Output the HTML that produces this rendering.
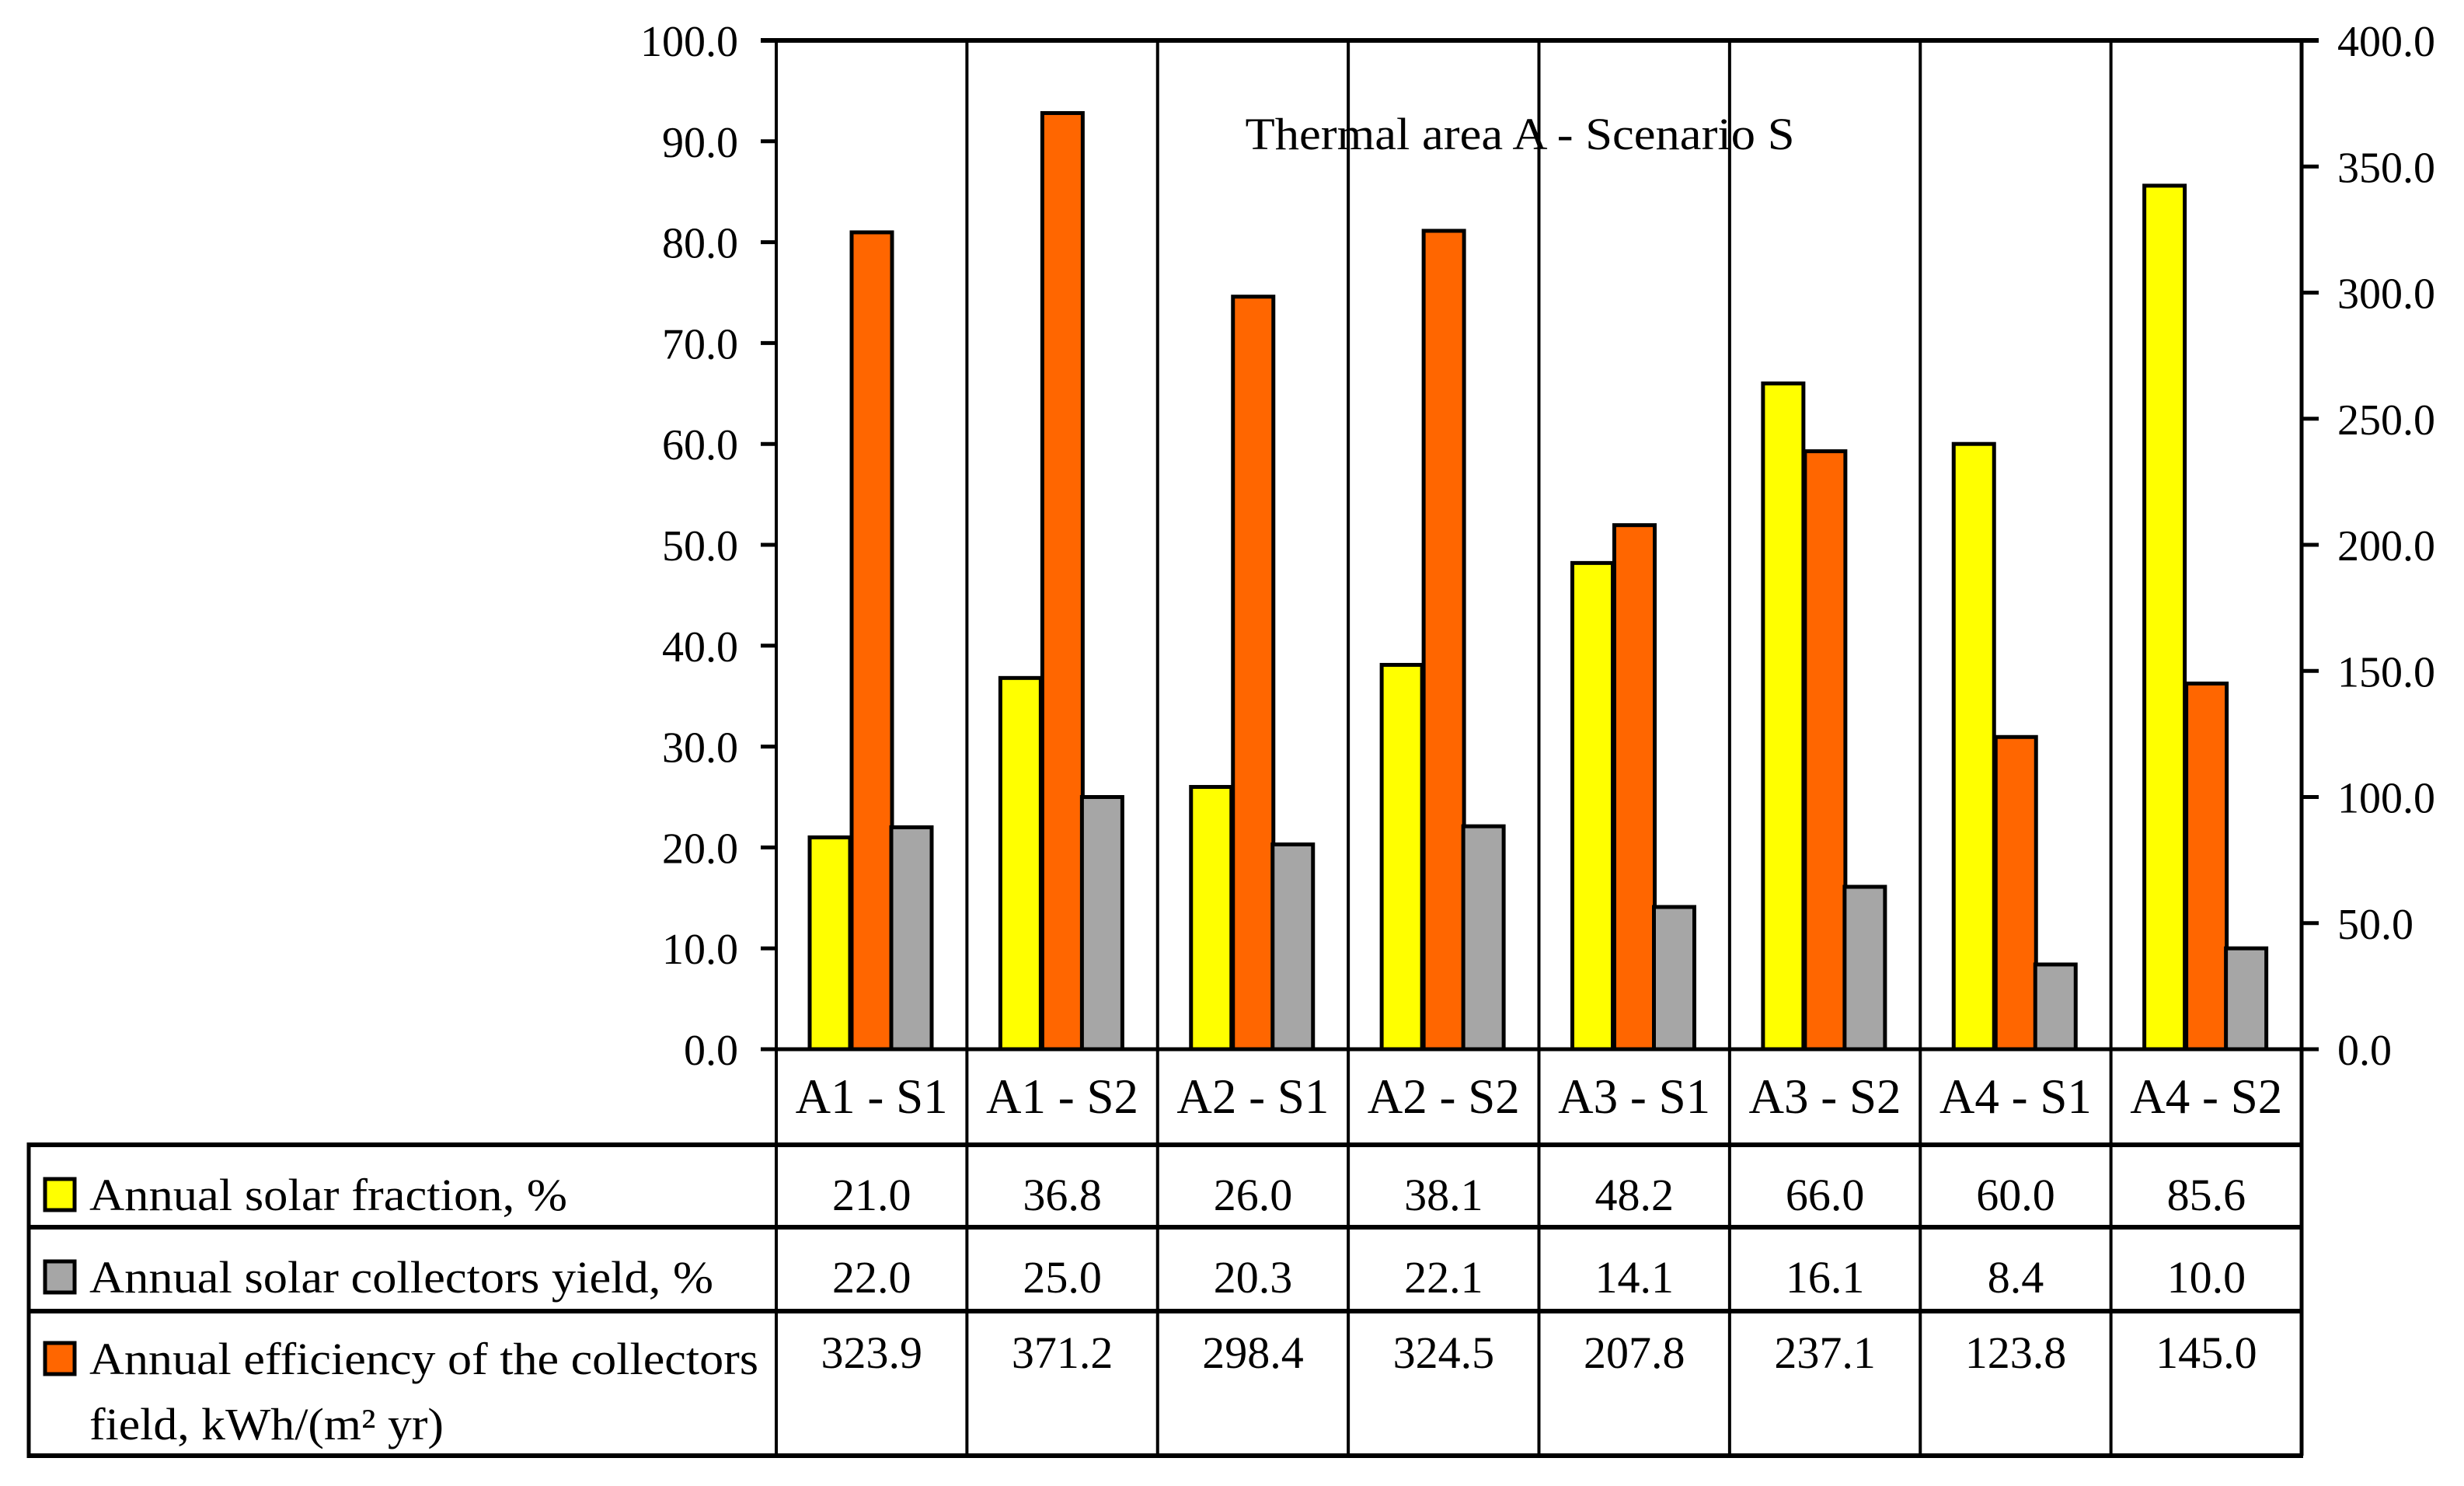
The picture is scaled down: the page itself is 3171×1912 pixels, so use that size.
<!DOCTYPE html>
<html><head><meta charset="utf-8"><style>
html,body{margin:0;padding:0;background:#fff;}
svg{display:block;font-family:"Liberation Serif",serif;}
</style></head><body>
<svg id="chart" width="3171" height="1912" viewBox="0 0 3171 1912" xmlns="http://www.w3.org/2000/svg">
<g id="grid"></g>
<g id="bars"></g>
<g id="axes"></g>
<g id="table"></g>
<text x="1956" y="192" font-size="58" text-anchor="middle" textLength="707" lengthAdjust="spacingAndGlyphs">Thermal area A - Scenario S</text>
</svg>
<script>
const categories = ["A1 - S1","A1 - S2","A2 - S1","A2 - S2","A3 - S1","A3 - S2","A4 - S1","A4 - S2"];
const solarFraction = [21.0,36.8,26.0,38.1,48.2,66.0,60.0,85.6];
const collectorsYield = [22.0,25.0,20.3,22.1,14.1,16.1,8.4,10.0];
const fieldEfficiency = [323.9,371.2,298.4,324.5,207.8,237.1,123.8,145.0];
const leftTicks = [0,10,20,30,40,50,60,70,80,90,100];
const rightTicks = [0,50,100,150,200,250,300,350,400];

const NS="http://www.w3.org/2000/svg";
const X0=999, X1=2962, Y0=1350, YT=52, TB=1873;
const cw=(X1-X0)/categories.length;
const yL=v=>Y0-(v/100)*(Y0-YT);
const yR=v=>Y0-(v/400)*(Y0-YT);
function mk(parent,tag,attrs){const e=document.createElementNS(NS,tag);for(const k in attrs)e.setAttribute(k,attrs[k]);parent.appendChild(e);return e;}
const grid=document.getElementById('grid'),bars=document.getElementById('bars'),axes=document.getElementById('axes'),table=document.getElementById('table');

for(let i=1;i<categories.length;i++){
  const l=mk(grid,'line',{x1:X0+i*cw,x2:X0+i*cw,y1:YT,y2:TB,stroke:'#000','stroke-width':4});
  
  
}
categories.forEach((c,i)=>{
  const bx=X0+i*cw;
  const specs=[[solarFraction[i],yL,'#ffff00',43,'bar-solar-fraction'],[fieldEfficiency[i],yR,'#ff6600',97,'bar-field-efficiency'],[collectorsYield[i],yL,'#a6a6a6',148,'bar-collectors-yield']];
  specs.forEach(s=>{
    const top=s[1](s[0]);
    const r=mk(bars,'rect',{x:bx+s[3],y:top,width:52,height:Y0-top,fill:s[2],stroke:'#000','stroke-width':5});
    
    
  });
});
let a=mk(axes,'line',{x1:X0,x2:X0,y1:YT,y2:TB,stroke:'#000','stroke-width':4});

a=mk(axes,'line',{x1:X1,x2:X1,y1:YT,y2:TB,stroke:'#000','stroke-width':5});

a=mk(axes,'line',{x1:X0-20,x2:X1+22,y1:YT,y2:YT,stroke:'#000','stroke-width':6});

a=mk(axes,'line',{x1:X0-20,x2:X1+22,y1:Y0,y2:Y0,stroke:'#000','stroke-width':5});

leftTicks.forEach(v=>{
  const y=yL(v);
  const t=mk(axes,'line',{x1:X0-20,x2:X0,y1:y,y2:y,stroke:'#000','stroke-width':5});
  
  const tx=mk(axes,'text',{x:950,y:y+20,'font-size':56,'text-anchor':'end'});
  tx.textContent=v.toFixed(1);
  
});
rightTicks.forEach(v=>{
  const y=yR(v);
  const t=mk(axes,'line',{x1:X1,x2:X1+22,y1:y,y2:y,stroke:'#000','stroke-width':5});
  
  const tx=mk(axes,'text',{x:3008,y:y+20,'font-size':56});
  tx.textContent=v.toFixed(1);
  
});
categories.forEach((c,i)=>{
  const tx=mk(axes,'text',{x:X0+(i+0.5)*cw,y:1432,'font-size':63,'text-anchor':'middle'});
  tx.textContent=c;
  
});
const rowLines=[1473,1579,1687,TB];
rowLines.forEach(y=>{
  const l=mk(table,'line',{x1:37,x2:X1+2,y1:y,y2:y,stroke:'#000','stroke-width':6});
  
});
let tl=mk(table,'line',{x1:37,x2:37,y1:1470,y2:TB+3,stroke:'#000','stroke-width':5});

const rows=[
  {fill:'#ffff00',sy:1517,lines:[['Annual solar fraction, %',1557,615]],vals:solarFraction,vy:1557,name:'legend-solar-fraction'},
  {fill:'#a6a6a6',sy:1623,lines:[['Annual solar collectors yield, %',1663,803]],vals:collectorsYield,vy:1663,name:'legend-collectors-yield'},
  {fill:'#ff6600',sy:1728,lines:[['Annual efficiency of the collectors',1768,861],['field, kWh/(m\u00b2 yr)',1852,456]],vals:fieldEfficiency,vy:1760,name:'legend-field-efficiency'}
];
rows.forEach(r=>{
  const sw=mk(table,'rect',{x:58,y:r.sy,width:38,height:40,fill:r.fill,stroke:'#000','stroke-width':5});
  
  r.lines.forEach(L=>{
    const tx=mk(table,'text',{x:115,y:L[1],'font-size':58,textLength:L[2],lengthAdjust:'spacingAndGlyphs'});
    tx.textContent=L[0];
    
  });
  r.vals.forEach((v,i)=>{
    const tx=mk(table,'text',{x:X0+(i+0.5)*cw,y:r.vy,'font-size':58,'text-anchor':'middle'});
    tx.textContent=v.toFixed(1);
    
  });
});
</script>
</body></html>
